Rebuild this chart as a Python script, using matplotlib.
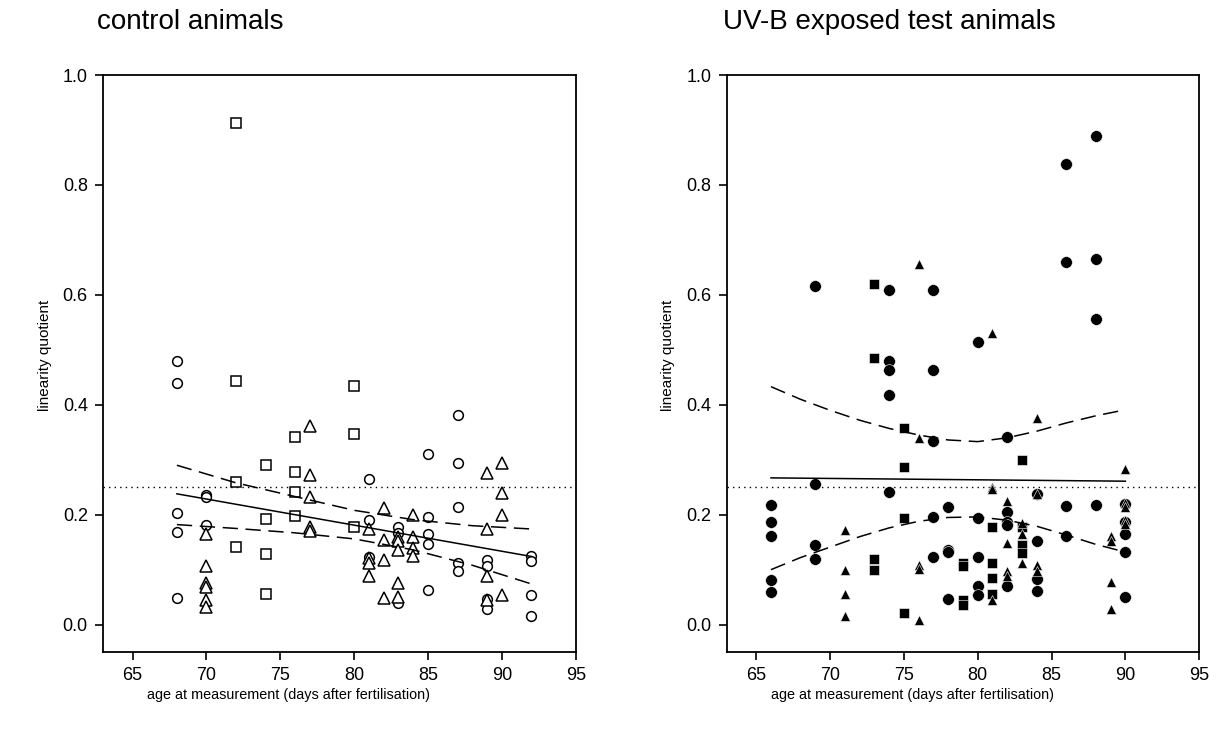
import matplotlib
matplotlib.use('Agg')
from matplotlib import pyplot as plt
import numpy as np

plt.rcParams['font.family'] = ['Liberation Sans', 'DejaVu Sans']

# control animals (open markers)
ctrl_circ_x = [68, 68, 68, 68, 68, 70, 70, 70, 81, 81, 81, 83, 83, 83,
               85, 85, 85, 85, 85, 87, 87, 87, 87, 87, 89, 89, 89, 89, 92, 92, 92, 92]
ctrl_circ_y = [0.479, 0.44, 0.204, 0.168, 0.049, 0.235, 0.232, 0.182, 0.265, 0.19, 0.123,
               0.177, 0.167, 0.039, 0.31, 0.196, 0.165, 0.147, 0.063,
               0.382, 0.295, 0.214, 0.113, 0.098, 0.117, 0.107, 0.047, 0.029,
               0.124, 0.115, 0.053, 0.015]
ctrl_sq_x = [72, 72, 72, 72, 74, 74, 74, 74, 76, 76, 76, 76, 80, 80, 80]
ctrl_sq_y = [0.913, 0.443, 0.259, 0.141, 0.29, 0.192, 0.129, 0.056,
             0.342, 0.278, 0.242, 0.197, 0.434, 0.346, 0.178]
ctrl_tri_x = [70, 70, 70, 70, 70, 70, 77, 77, 77, 77, 77, 81, 81, 81, 81,
              82, 82, 82, 82, 83, 83, 83, 83, 83, 84, 84, 84, 84,
              89, 89, 89, 89, 90, 90, 90, 90]
ctrl_tri_y = [0.165, 0.107, 0.075, 0.069, 0.045, 0.032, 0.361, 0.273, 0.233, 0.177, 0.171,
              0.174, 0.122, 0.112, 0.089, 0.213, 0.154, 0.118, 0.048,
              0.16, 0.153, 0.136, 0.075, 0.051, 0.199, 0.16, 0.14, 0.124,
              0.276, 0.174, 0.088, 0.045, 0.294, 0.239, 0.199, 0.053]

ctrl_fit_x = [68, 92]
ctrl_fit_y = [0.238, 0.124]
ctrl_band_x = [68, 72, 76, 80, 84, 88, 92]
ctrl_upper = [0.29, 0.258, 0.233, 0.208, 0.191, 0.18, 0.174]
ctrl_lower = [0.182, 0.175, 0.167, 0.156, 0.136, 0.108, 0.074]

# UV-B exposed animals (filled markers)
uv_circ_x = [66, 66, 66, 66, 66, 69, 69, 69, 69, 74, 74, 74, 74, 74,
             77, 77, 77, 77, 77, 78, 78, 78, 78, 80, 80, 80, 80, 80,
             82, 82, 82, 82, 82, 84, 84, 84, 84, 86, 86, 86, 86,
             88, 88, 88, 88, 90, 90, 90, 90, 90]
uv_circ_y = [0.217, 0.187, 0.162, 0.081, 0.06, 0.616, 0.255, 0.144, 0.119,
             0.608, 0.48, 0.463, 0.417, 0.241, 0.608, 0.463, 0.334, 0.196, 0.123,
             0.214, 0.136, 0.132, 0.046, 0.514, 0.194, 0.123, 0.071, 0.053,
             0.341, 0.205, 0.187, 0.182, 0.071, 0.237, 0.153, 0.083, 0.062,
             0.838, 0.659, 0.215, 0.161, 0.89, 0.665, 0.556, 0.217,
             0.219, 0.187, 0.165, 0.132, 0.05]
uv_sq_x = [73, 73, 73, 73, 75, 75, 75, 75, 79, 79, 79, 79,
           81, 81, 81, 81, 83, 83, 83, 83]
uv_sq_y = [0.619, 0.485, 0.12, 0.1, 0.358, 0.287, 0.194, 0.021,
           0.112, 0.106, 0.044, 0.035, 0.177, 0.112, 0.084, 0.055,
           0.3, 0.177, 0.144, 0.13]
uv_tri_x = [71, 71, 71, 71, 76, 76, 76, 76, 76, 81, 81, 81, 81,
            82, 82, 82, 82, 83, 83, 83, 84, 84, 84, 84,
            89, 89, 89, 89, 90, 90, 90, 90, 90]
uv_tri_y = [0.173, 0.1, 0.056, 0.015, 0.656, 0.339, 0.108, 0.102, 0.009,
            0.53, 0.25, 0.246, 0.044, 0.225, 0.148, 0.098, 0.089,
            0.185, 0.164, 0.112, 0.376, 0.237, 0.109, 0.098,
            0.162, 0.153, 0.077, 0.029, 0.284, 0.222, 0.214, 0.19, 0.184]

uv_fit_x = [66, 90]
uv_fit_y = [0.267, 0.261]
uv_band_x = [66, 68, 70, 72, 74, 76, 78, 80, 82, 84, 86, 88, 90]
uv_upper = [0.433, 0.41, 0.39, 0.372, 0.357, 0.345, 0.336, 0.333, 0.34, 0.352, 0.367, 0.38, 0.391]
uv_lower = [0.10, 0.122, 0.141, 0.16, 0.176, 0.188, 0.195, 0.196, 0.19, 0.179, 0.163, 0.146, 0.132]

yticks = [0.0, 0.2, 0.4, 0.6, 0.8, 1.0]
xticks = [65, 70, 75, 80, 85, 90, 95]

fig = plt.figure(figsize=(12.18, 7.36), dpi=100)
ax1 = fig.add_axes([0.0846, 0.114, 0.3881, 0.784])
ax2 = fig.add_axes([0.5966, 0.114, 0.3880, 0.784])


def style(ax):
    ax.set_xlim(63, 95)
    ax.set_ylim(-0.05, 1.0)
    ax.set_xticks(xticks)
    ax.set_yticks(yticks)
    ax.set_yticklabels(['%.1f' % t for t in yticks])
    ax.tick_params(direction='out', length=6, width=1.2, labelsize=13, pad=5)
    for s in ax.spines.values():
        s.set_linewidth(1.3)
    ax.set_ylabel('linearity quotient', fontsize=11)
    ax.set_xlabel('age at measurement (days after fertilisation)', fontsize=10.4)
    ax.yaxis.set_label_coords(-0.109, 0.515)
    ax.xaxis.set_label_coords(0.393, -0.062)
    ax.axhline(0.25, color='black', linestyle=(0, (1, 3)), linewidth=1)


style(ax1)
style(ax2)

# left panel
ax1.plot(ctrl_circ_x, ctrl_circ_y, 'o', mfc='white', mec='black', mew=1.1, ms=7, ls='none')
ax1.plot(ctrl_sq_x, ctrl_sq_y, 's', mfc='white', mec='black', mew=1.1, ms=7, ls='none')
ax1.plot(ctrl_tri_x, ctrl_tri_y, '^', mfc='white', mec='black', mew=1.1, ms=8, ls='none')
ax1.plot(ctrl_fit_x, ctrl_fit_y, color='black', lw=1.1)
ax1.plot(ctrl_band_x, ctrl_upper, color='black', lw=1.1, dashes=(10, 5))
ax1.plot(ctrl_band_x, ctrl_lower, color='black', lw=1.1, dashes=(10, 5))

# right panel
ax2.plot(uv_circ_x, uv_circ_y, 'o', color='black', mec='white', mew=0.4, ms=8.5, ls='none')
ax2.plot(uv_sq_x, uv_sq_y, 's', color='black', mec='white', mew=0.4, ms=7, ls='none')
ax2.plot(uv_tri_x, uv_tri_y, '^', color='black', mec='white', mew=0.4, ms=7.5, ls='none')
ax2.plot(uv_fit_x, uv_fit_y, color='black', lw=1.1)
ax2.plot(uv_band_x, uv_upper, color='black', lw=1.1, dashes=(10, 5))
ax2.plot(uv_band_x, uv_lower, color='black', lw=1.1, dashes=(10, 5))

fig.text(0.08, 0.97, 'control animals', fontsize=20, va='center', ha='left')
fig.text(0.594, 0.97, 'UV-B exposed test animals', fontsize=20, va='center', ha='left')

fig.savefig('out.png', dpi=100)
